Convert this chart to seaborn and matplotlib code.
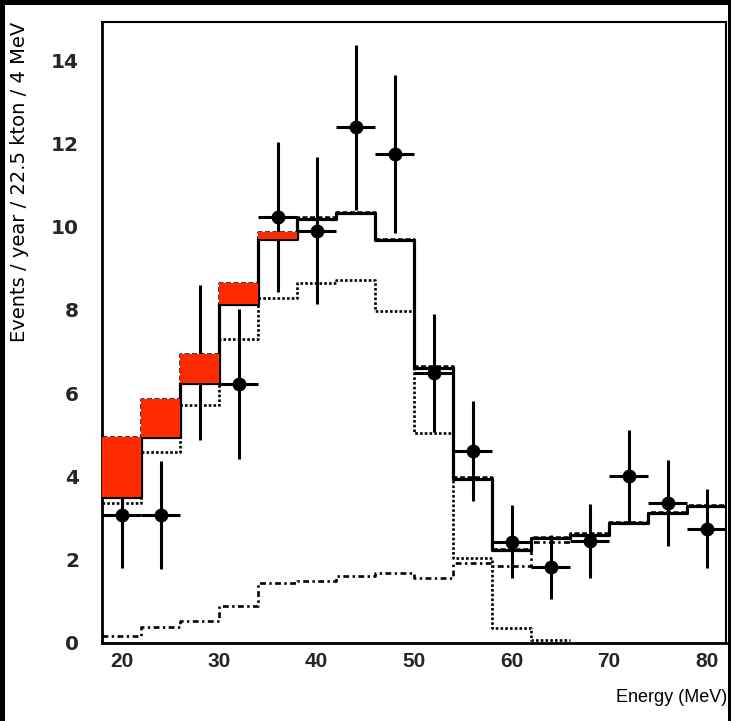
import matplotlib
matplotlib.use("Agg")
import matplotlib.pyplot as plt
import seaborn as sns
import pandas as pd
from matplotlib.patches import Rectangle
from matplotlib.ticker import MultipleLocator

# 4 MeV energy bins (lower edges) and centres
bin_lo = [18, 22, 26, 30, 34, 38, 42, 46, 50, 54, 58, 62, 66, 70, 74, 78]
bin_centre = [20, 24, 28, 32, 36, 40, 44, 48, 52, 56, 60, 64, 68, 72, 76, 80]
bin_edges = bin_lo + [82]
bin_width = 4

# expected spectra, events / year / 22.5 kton / 4 MeV
background = [3.50, 4.95, 6.25, 8.15, 9.69, 10.17, 10.32, 9.67, 6.60, 3.95,
              2.23, 2.51, 2.60, 2.87, 3.11, 3.29]
with_signal = [4.94, 5.87, 6.93, 8.64, 9.88, 10.22, 10.36, 9.71, 6.66, 3.99,
               2.26, 2.54, 2.63, 2.90, 3.14, 3.32]
decay_electrons = [3.36, 4.59, 5.71, 7.29, 8.28, 8.65, 8.72, 7.97, 5.05, 2.04,
                   0.36, 0.08]
atmospheric = [0.17, 0.38, 0.54, 0.90, 1.43, 1.50, 1.60, 1.68, 1.55, 1.92,
               1.86, 2.42, 2.60, 2.87, 3.11, 3.29]

# signal band shown for the low-energy bins
band_bins = 5

# observed events with statistical errors
observed = [3.07, 3.07, 6.74, 6.22, 10.22, 9.90, 12.38, 11.75, 6.48, 4.62,
            2.43, 1.83, 2.45, 4.00, 3.37, 2.74]
observed_err = [1.28, 1.29, 1.86, 1.80, 1.80, 1.77, 1.97, 1.90, 1.42, 1.20,
                0.88, 0.77, 0.88, 1.12, 1.03, 0.95]

sns.set_theme(style="white")
plt.rcParams["font.family"] = ["Liberation Sans", "DejaVu Sans"]

W, H = 731, 721
fig = plt.figure(figsize=(W / 100, H / 100), dpi=100, facecolor="black")
fig.patches.append(Rectangle((5 / W, 0), (728 - 5) / W, (H - 5) / H,
                             transform=fig.transFigure, facecolor="white",
                             edgecolor="none", zorder=-10))

ax = fig.add_axes([102 / W, 1 - 643 / H, (726 - 102) / W, (643 - 21.7) / H])
ax.set_zorder(1)
ax.set_facecolor("white")

def step_hist(values, **kw):
    n = len(values)
    df = pd.DataFrame({"E": bin_centre[:n], "w": values})
    sns.histplot(data=df, x="E", weights="w", bins=bin_edges[:n + 1],
                 element="step", fill=False, ax=ax, **kw)

step_hist(atmospheric, color="black", linewidth=1.9,
          linestyle=(0, (2.2, 1.3, 0.9, 1.3)), zorder=2)
step_hist(decay_electrons, color="black", linewidth=1.9,
          linestyle=(0, (1, 0.8)), zorder=2)
step_hist(with_signal, color="black", linewidth=1.8,
          linestyle=(0, (2, 1)), zorder=2.2)
step_hist(background, color="black", linewidth=2.3, zorder=2.4)

# observed data with horizontal bin-width bars
ax.errorbar(bin_centre, observed, yerr=observed_err, xerr=bin_width / 2,
            fmt="none", ecolor="black", elinewidth=2.2, capsize=0, zorder=3)
sns.scatterplot(x=bin_centre, y=observed, ax=ax, color="black", s=100,
                edgecolor="black", linewidth=0, zorder=3.5)

# signal band on top of the background expectation
lo = background[:band_bins]
hi = with_signal[:band_bins]
ax.bar(bin_centre[:band_bins], [h - l for h, l in zip(hi, lo)], bottom=lo,
       width=bin_width, color="#ff2a00", edgecolor="none", zorder=6,
       clip_on=False)

ax.set_xlim(18, 82)
ax.set_ylim(0, 14.92)
ax.xaxis.set_major_locator(MultipleLocator(10))
ax.xaxis.set_minor_locator(MultipleLocator(2))
ax.yaxis.set_major_locator(MultipleLocator(2))
ax.yaxis.set_minor_locator(MultipleLocator(0.5))
ax.tick_params(axis="both", which="both", direction="in", color="black",
               top=False, right=False, width=1.4)
ax.tick_params(axis="both", which="major", length=9)
ax.tick_params(axis="y", which="minor", length=5)
ax.tick_params(axis="x", which="minor", length=4.5)
ax.tick_params(axis="y", which="major", pad=16.5, labelsize=14.5)
ax.tick_params(axis="x", which="major", pad=6.5, labelsize=15)
for lab in ax.get_yticklabels():
    lab.set_family("DejaVu Sans")
    lab.set_fontweight("bold")
for lab in ax.get_xticklabels():
    lab.set_fontweight("bold")
ax.set_xlabel("")
ax.set_ylabel("")
for side in ["left", "bottom"]:
    ax.spines[side].set_linewidth(2.0)
for side in ["top", "right"]:
    ax.spines[side].set_linewidth(1.5)
for sp in ax.spines.values():
    sp.set_color("black")
    sp.set_zorder(4)

fig.text(20 / W, 1 - 22 / H, "Events / year / 22.5 kton / 4 MeV",
         rotation=90, ha="center", va="top", fontsize=14,
         family=["DejaVu Sans"], color="black")
fig.text(727 / W, 1 - 697 / H, "Energy (MeV)", ha="right", va="center",
         fontsize=13, color="black")

fig.savefig("out.png", dpi=100, facecolor=fig.get_facecolor())
